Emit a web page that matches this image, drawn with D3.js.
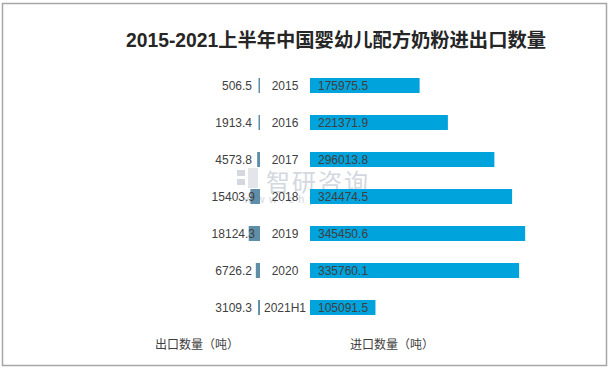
<!DOCTYPE html>
<html>
<head>
<meta charset="utf-8">
<script src="https://cdn.jsdelivr.net/npm/d3@7"></script>
<style>
  body { margin: 0; background: #fff; }
  text { font-family: "Liberation Sans", "Noto Sans CJK SC", sans-serif; }
</style>
</head>
<body>
<div id="chart"></div>
<script>
const years = ["2015", "2016", "2017", "2018", "2019", "2020", "2021H1"]
const exportQty = [506.5, 1913.4, 4573.8, 15403.9, 18124.3, 6726.2, 3109.3]
const importQty = [175975.5, 221371.9, 296013.8, 324474.5, 345450.6, 335760.1, 105091.5]

const width = 611
const height = 372
const centerLeft = 260   // export bars grow left from here
const centerRight = 310  // import bars grow right from here

const rows = years.map((y, i) => ({ year: y, ex: exportQty[i], im: importQty[i] }))

const svg = d3.select("#chart").append("svg")
    .attr("width", width)
    .attr("height", height)

// frame
svg.append("rect")
    .attr("x", 2.5).attr("y", 3.5)
    .attr("width", 604).attr("height", 362)
    .attr("fill", "none")
    .attr("stroke", "#a6a6a6")
    .attr("stroke-width", 1.5)

svg.append("text")
    .attr("x", 336).attr("y", 47)
    .attr("text-anchor", "middle")
    .attr("font-size", 19.3)
    .attr("font-weight", "bold")
    .attr("fill", "#262626")
    .style("font-family", "'Liberation Sans', 'Noto Sans CJK SC', sans-serif")
    .text("2015-2021上半年中国婴幼儿配方奶粉进出口数量")

// watermark
const wm = svg.append("g").attr("fill", "#d3d8df")
wm.append("rect").attr("x", 237).attr("y", 170).attr("width", 8).attr("height", 6)
wm.append("rect").attr("x", 237).attr("y", 179).attr("width", 8).attr("height", 6)
wm.append("rect").attr("x", 248).attr("y", 168).attr("width", 10).attr("height", 20).attr("fill", "#e2e6eb")
wm.append("text")
    .attr("x", 266).attr("y", 191)
    .attr("font-size", 24)
    .style("font-family", "'Noto Sans CJK SC', sans-serif")
    .attr("letter-spacing", 2)
    .text("智研咨询")
wm.append("text")
    .attr("x", 244).attr("y", 203)
    .attr("font-size", 11)
    .attr("letter-spacing", 4.5)
    .text("www.chyxx.com")

const x = d3.scaleLinear()
    .domain([0, 350000])
    .range([0, 218])

const y = d3.scaleBand()
    .domain(years)
    .range([67, 326])
    .paddingInner(0.595)
    .paddingOuter(0.2975)

const g = svg.append("g")

g.selectAll(".im-bar")
    .data(rows)
    .join("rect")
    .attr("class", "im-bar")
    .attr("x", centerRight)
    .attr("y", d => y(d.year))
    .attr("width", d => x(d.im))
    .attr("height", y.bandwidth())
    .attr("fill", "#00a3dc")

g.selectAll(".ex-bar")
    .data(rows)
    .join("rect")
    .attr("class", "ex-bar")
    .attr("x", d => centerLeft - Math.max(1.5, x(d.ex)))
    .attr("y", d => y(d.year))
    .attr("width", d => Math.max(1.5, x(d.ex)))
    .attr("height", y.bandwidth())
    .attr("fill", "#5f8fa8")

g.selectAll(".year")
    .data(rows)
    .join("text")
    .attr("class", "year")
    .attr("x", 285)
    .attr("y", d => y(d.year) + y.bandwidth() / 2 + 4.5)
    .attr("text-anchor", "middle")
    .attr("font-size", 12)
    .attr("fill", "#404040")
    .text(d => d.year)

g.selectAll(".im-label")
    .data(rows)
    .join("text")
    .attr("class", "im-label")
    .attr("x", centerRight + 8)
    .attr("y", d => y(d.year) + y.bandwidth() / 2 + 4.5)
    .attr("font-size", 12)
    .attr("fill", "#404040")
    .text(d => d.im.toFixed(1))

g.selectAll(".ex-label")
    .data(rows)
    .join("text")
    .attr("class", "ex-label")
    .attr("x", d => d.ex > 10000 ? 255 : 252)
    .attr("y", d => y(d.year) + y.bandwidth() / 2 + 4.5)
    .attr("text-anchor", "end")
    .attr("font-size", 12)
    .attr("fill", "#404040")
    .text(d => d.ex.toFixed(1))

svg.append("text")
    .attr("x", 155).attr("y", 349)
    .attr("font-size", 12)
    .attr("fill", "#404040")
    .style("font-family", "'Noto Sans CJK SC', sans-serif")
    .text("出口数量（吨）")

svg.append("text")
    .attr("x", 350).attr("y", 349)
    .attr("font-size", 12)
    .attr("fill", "#404040")
    .style("font-family", "'Noto Sans CJK SC', sans-serif")
    .text("进口数量（吨）")
</script>
</body>
</html>
